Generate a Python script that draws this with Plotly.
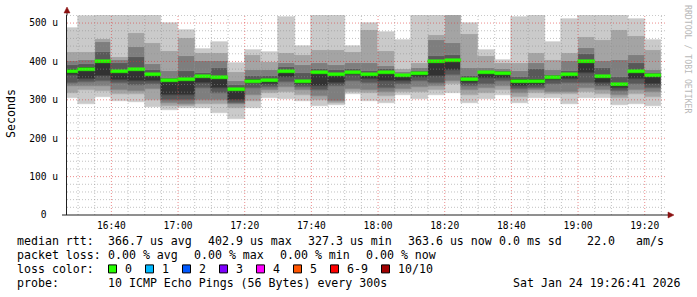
import plotly.graph_objects as go
import pandas as pd

# ---------------- data (microseconds) ----------------
start_time = "2026-01-24 16:25:00"
range_start = "2026-01-24 16:26:41"
range_end = "2026-01-24 19:26:41"
step_minutes = 5

# sorted ping round-trip times per 5-minute step (ping01 fastest ... ping10 slowest)
ping10 = [487, 518, 525, 525, 525, 525, 500, 482, 432, 450, 395, 430, 425, 516, 441, 525, 525, 440,
          499, 478, 455, 525, 525, 525, 500, 431, 405, 516, 525, 451, 510, 525, 525, 525, 510, 457]
ping09 = [425, 425, 458, 411, 475, 448, 426, 460, 421, 422, 372, 418, 399, 421, 417, 430, 430, 425,
          482, 426, 380, 396, 470, 520, 472, 414, 395, 397, 423, 404, 423, 464, 457, 482, 467, 430]
ping08 = [402, 404, 450, 405, 438, 394, 376, 414, 400, 400, 350, 378, 378, 395, 390, 395, 390, 395,
          397, 387, 372, 384, 456, 449, 383, 382, 380, 374, 397, 378, 401, 435, 400, 404, 418, 378]
ping07 = [390, 393, 425, 395, 412, 378, 358, 375, 370, 383, 338, 362, 362, 385, 370, 380, 378, 380,
          374, 380, 368, 375, 415, 417, 362, 376, 374, 360, 380, 366, 375, 420, 383, 359, 396, 369]
ping06 = [380, 386, 401, 378, 382, 369, 353, 356, 364, 362, 330, 353, 355, 378, 352, 374, 369, 374,
          370, 375, 366, 372, 402, 406, 355, 375, 372, 353, 353, 360, 370, 402, 366, 342, 377, 366]
ping05 = [366, 354, 362, 352, 350, 348, 313, 312, 345, 330, 299, 343, 340, 360, 340, 335, 345, 365,
          355, 350, 350, 360, 361, 378, 343, 358, 358, 335, 338, 352, 355, 371, 343, 330, 355, 340]
ping04 = [345, 347, 349, 343, 339, 342, 300, 300, 330, 318, 293, 330, 333, 347, 333, 325, 335, 348,
          345, 330, 340, 350, 345, 365, 335, 340, 348, 328, 330, 340, 345, 343, 335, 322, 340, 330]
ping03 = [336, 336, 336, 326, 324, 327, 291, 290, 300, 300, 288, 312, 325, 334, 325, 310, 298, 327,
          326, 320, 328, 333, 336, 350, 325, 330, 335, 318, 325, 321, 321, 332, 325, 313, 325, 320]
ping02 = [318, 326, 324, 315, 315, 300, 283, 284, 290, 290, 280, 298, 318, 320, 312, 299, 292, 320,
          318, 310, 320, 320, 325, 340, 313, 318, 325, 308, 318, 314, 316, 320, 315, 305, 315, 308]
ping01 = [305, 289, 308, 298, 295, 282, 273, 280, 280, 267, 249, 280, 305, 302, 296, 284, 287, 315,
          296, 293, 313, 301, 313, 319, 293, 303, 313, 292, 305, 306, 289, 306, 306, 286, 290, 284]
median_rtt = [374, 380, 399, 373, 378, 366, 350, 352, 361, 358, 327.3, 349, 351, 375, 347, 371, 366, 371,
              367, 372, 363, 369, 399, 402.9, 352, 372, 369, 349, 349, 357, 367, 399, 362, 339, 373, 363.6]

y_range = [0, 521]
y_tick_vals = [0, 100, 200, 300, 400, 500]
y_tick_text = ["0\u00a0\u00a0", "100 u", "200 u", "300 u", "400 u", "500 u"]
x_tick_labels = ["16:40", "17:00", "17:20", "17:40", "18:00", "18:20", "18:40", "19:00", "19:20"]

rtt_stats = ["366.7 us avg", "402.9 us max", "327.3 us min", "363.6 us now", "0.0 ms sd", "22.0", "am/s"]
loss_stats = ["0.00 % avg", "0.00 % max", "0.00 % min", "0.00 % now"]
loss_labels = ["0", "1", "2", "3", "4", "5", "6-9", "10/10"]
loss_colors = ["#26ff00", "#00b8ff", "#0059ff", "#7e00ff", "#ff00ff", "#ff5500", "#ff0000", "#a10000"]
probe_text = "10 ICMP Echo Pings (56 Bytes) every 300s"
stamp_text = "Sat Jan 24 19:26:41 2026"
watermark = "RRDTOOL / TOBI OETIKER"

# ---------------- layout geometry ----------------
W, H = 697, 297
L, R, T, B = 67, 30, 15, 82
PW, PH = W - L - R, H - T - B
MONO = "DejaVu Sans Mono"


def px(xp):
    return (xp - L) / PW


def py(yp):
    return (H - B - yp) / PH


pings = [ping01, ping02, ping03, ping04, ping05, ping06, ping07, ping08, ping09, ping10]
n = len(median_rtt)
t0 = pd.Timestamp(start_time)
step = pd.Timedelta(minutes=step_minutes)
centers = [t0 + step * (k + 0.5) for k in range(n)]
width_ms = step.total_seconds() * 1000

fig = go.Figure()
half = len(pings) / 2
for i in range(1, len(pings)):
    g = int(190 / half * abs(half - i)) + 50
    col = "#%02x%02x%02x" % (g, g, g)
    lo = pings[i - 1]
    hi = pings[i]
    fig.add_trace(go.Bar(
        x=centers, y=[h - l for h, l in zip(hi, lo)], base=lo, width=width_ms,
        marker=dict(color=col, line=dict(color=col, width=0.6)),
        hoverinfo="skip", showlegend=False))

# median line (drawn as a thin band of ~3px)
thick = 3 * (y_range[1] - y_range[0]) / PH
fig.add_trace(go.Bar(
    x=centers, y=[thick] * n, base=[m - thick / 2 for m in median_rtt], width=width_ms,
    marker=dict(color=loss_colors[0], line=dict(color=loss_colors[0], width=0.5)),
    hoverinfo="skip", showlegend=False))

shapes = []
# grid drawn above the smoke, like rrdtool
rs, re_ = pd.Timestamp(range_start), pd.Timestamp(range_end)
t = rs.ceil("5min")
while t <= re_:
    major = (t.minute % 20 == 0)
    shapes.append(dict(type="line", xref="x", yref="paper", x0=t, x1=t, y0=0, y1=1, layer="above",
                       line=dict(color="rgba(222,48,48,0.55)" if major else "rgba(143,143,143,0.55)",
                                 width=1, dash="1px,2px")))
    t += step
for v in range(20, int(y_range[1]) + 1, 20):
    major = (v % 100 == 0)
    shapes.append(dict(type="line", xref="paper", yref="y", x0=0, x1=1, y0=v, y1=v, layer="above",
                       line=dict(color="rgba(222,48,48,0.55)" if major else "rgba(143,143,143,0.55)",
                                 width=1, dash="1px,2px")))

# axis extensions and arrows
axis_col = "#202020"
arrow_col = "#8b1111"
shapes.append(dict(type="line", xref="paper", yref="paper", x0=0, x1=0, y0=1, y1=py(10),
                   line=dict(color=axis_col, width=1)))
shapes.append(dict(type="line", xref="paper", yref="paper", x0=px(62), x1=px(670), y0=0, y1=0,
                   line=dict(color=axis_col, width=1)))
shapes.append(dict(type="path", xref="paper", yref="paper",
                   path="M %f,%f L %f,%f L %f,%f Z" % (px(64), py(13), px(70), py(13), px(67), py(7)),
                   fillcolor=arrow_col, line=dict(color=arrow_col, width=0.5)))
shapes.append(dict(type="path", xref="paper", yref="paper",
                   path="M %f,%f L %f,%f L %f,%f Z" % (px(668), py(212), px(668), py(218), px(674), py(215)),
                   fillcolor=arrow_col, line=dict(color=arrow_col, width=0.5)))

annotations = []


def txt(s, xp, yp, size=11.6, color="#000000", anchor="left", angle=0):
    annotations.append(dict(text=s, x=px(xp), y=py(yp), xref="paper", yref="paper",
                            xanchor=anchor, yanchor="middle", showarrow=False, textangle=angle,
                            borderpad=0, font=dict(family=MONO, size=size, color=color)))


# legend rows
row_y = [241.3, 254.8, 268.9, 282.8]
txt("median rtt:", 16, row_y[0])
for s, xp in zip(rtt_stats, [107.3, 207.3, 306.7, 407, 498, 586.3, 635.3]):
    txt(s, xp, row_y[0])
txt("packet loss:", 16, row_y[1])
for s, xp in zip(loss_stats, [107.3, 193.3, 279.3, 365.3]):
    txt(s, xp, row_y[1])
txt("loss color:", 16, row_y[2])
box_x = [108.5, 145.5, 182.5, 219.5, 256.5, 293.5, 330.5, 381.5]
for lab, col, bx in zip(loss_labels, loss_colors, box_x):
    shapes.append(dict(type="rect", xref="paper", yref="paper",
                       x0=px(bx), x1=px(bx + 8), y0=py(row_y[2] + 4), y1=py(row_y[2] - 4),
                       fillcolor=col, line=dict(color="#000000", width=1)))
    txt(lab, bx + 15, row_y[2])
txt("probe:", 16, row_y[3])
txt(probe_text, 107.3, row_y[3])
txt(stamp_text, 681.5, row_y[3], anchor="right")

# y-axis title and watermark
txt("Seconds", 11, 114, angle=-90, anchor="center")
txt(watermark, 688, 59, size=8.2, color="#b8b8b8", anchor="center", angle=90)

x_tick_vals = [pd.Timestamp("2026-01-24 " + s) for s in x_tick_labels]

fig.update_layout(
    width=W, height=H, autosize=False,
    margin=dict(l=L, r=R, t=T, b=B, pad=0),
    paper_bgcolor="white", plot_bgcolor="white",
    barmode="overlay", bargap=0,
    showlegend=False,
    font=dict(family=MONO, color="#000000"),
    shapes=shapes, annotations=annotations,
    xaxis=dict(type="date", range=[rs, re_], showgrid=False, zeroline=False,
               showline=False, tickvals=x_tick_vals, ticktext=x_tick_labels,
               ticks="", tickfont=dict(family=MONO, size=9.6, color="#000000"),
               ticklabelstandoff=3, fixedrange=True),
    yaxis=dict(range=y_range, showgrid=False, zeroline=False, showline=True,
               linecolor=axis_col, linewidth=1, tickvals=y_tick_vals, ticktext=y_tick_text,
               ticks="", tickfont=dict(family=MONO, size=9.6, color="#000000"),
               ticklabelstandoff=6, fixedrange=True),
)

fig.write_html("out.html")
